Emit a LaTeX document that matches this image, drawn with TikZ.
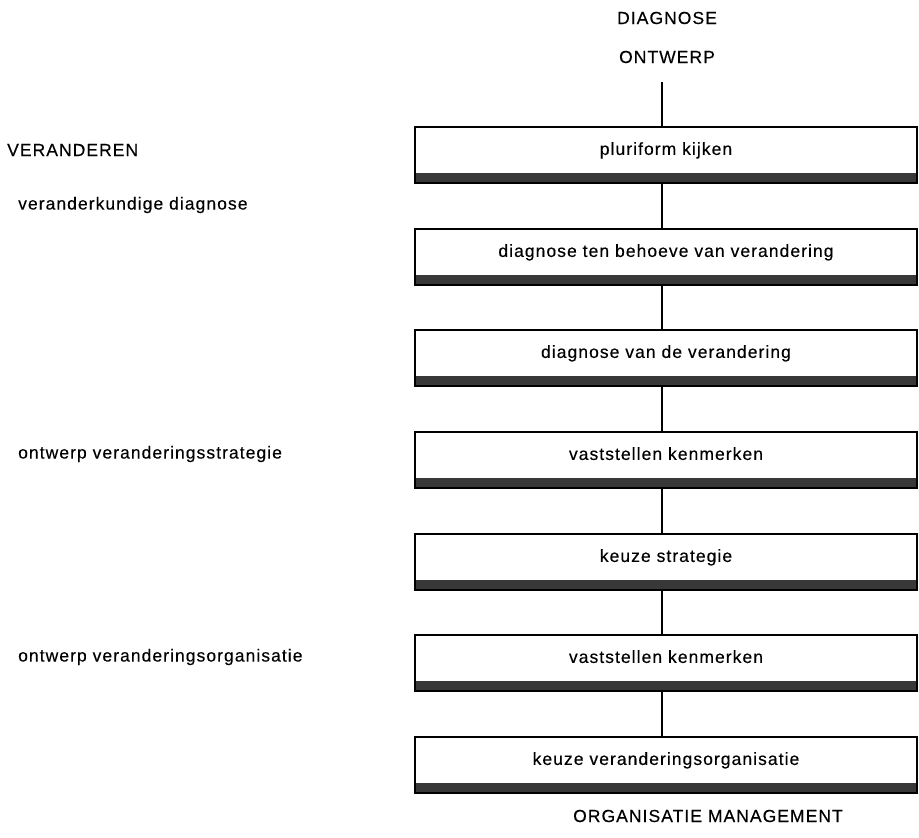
\documentclass[tikz,border=0pt]{standalone}
\usepackage{fontspec}
\setmainfont{Liberation Sans}[LetterSpace=6,FakeBold=0.3]
\begin{document}
\begin{tikzpicture}[x=1pt,y=-1pt,
  txt/.style={font=\fontsize{17.5}{20}\selectfont},
  stepbox/.style={txt, draw=black, line width=1.8pt, fill=white, anchor=north,
    minimum width=502pt, inner xsep=0pt, inner ysep=0pt,
    text height=28pt, text depth=28pt,
    path picture={\fill[black!78] (path picture bounding box.south west) rectangle ([yshift=10pt]path picture bounding box.south east);}},
  lbl/.style={txt, anchor=west, inner sep=0pt},
  head/.style={txt, inner sep=0pt},
  conn/.style={line width=1.8pt}]
\useasboundingbox (0,0) rectangle (919,838);

\node[head] (diag) at (667,18) {DIAGNOSE};
\node[head] (ontw) at (667,57) {ONTWERP};
\coordinate (top) at (662,82);

\node[stepbox] (b1) at (666,126) {pluriform kijken};
\node[stepbox] (b2) at (666,228) {diagnose ten behoeve van verandering};
\node[stepbox] (b3) at (666,329) {diagnose van de verandering};
\node[stepbox] (b4) at (666,431) {vaststellen kenmerken};
\node[stepbox] (b5) at (666,533) {keuze strategie};
\node[stepbox] (b6) at (666,634) {vaststellen kenmerken};
\node[stepbox] (b7) at (666,736) {keuze veranderingsorganisatie};

\node[head, anchor=west] (om) at (573,816) {ORGANISATIE MANAGEMENT};

\draw[conn] (top) -- ([xshift=-4pt]b1.north);
\draw[conn] ([xshift=-4pt]b1.south) -- ([xshift=-4pt]b2.north);
\draw[conn] ([xshift=-4pt]b2.south) -- ([xshift=-4pt]b3.north);
\draw[conn] ([xshift=-4pt]b3.south) -- ([xshift=-4pt]b4.north);
\draw[conn] ([xshift=-4pt]b4.south) -- ([xshift=-4pt]b5.north);
\draw[conn] ([xshift=-4pt]b5.south) -- ([xshift=-4pt]b6.north);
\draw[conn] ([xshift=-4pt]b6.south) -- ([xshift=-4pt]b7.north);

\node[lbl] (ver) at (7,150) {VERANDEREN};
\node[lbl] (vd) at (18,205) {veranderkundige diagnose};
\node[lbl] (ovs) at (18,454) {ontwerp veranderingsstrategie};
\node[lbl] (ovo) at (18,657) {ontwerp veranderingsorganisatie};
\end{tikzpicture}
\end{document}
